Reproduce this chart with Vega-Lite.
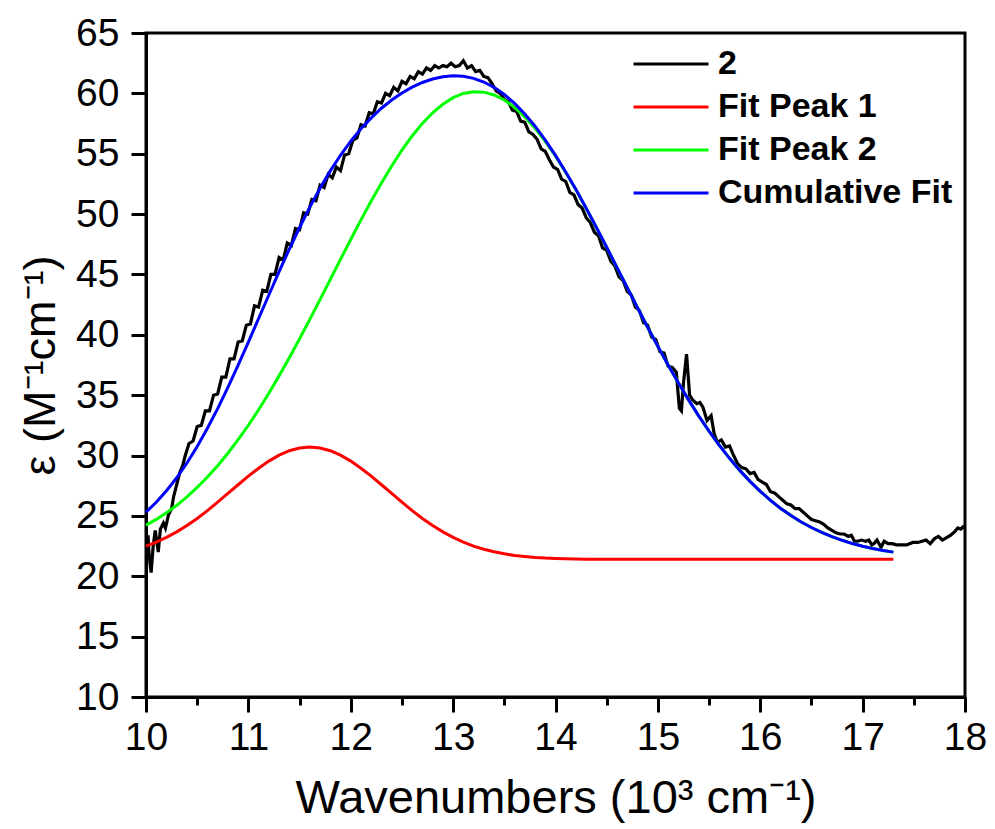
{
"$schema":"https://vega.github.io/schema/vega-lite/v6.json",
"width":819,"height":664,
"autosize":{"type":"none"},
"padding":{"left":146,"top":33,"right":30,"bottom":132},
"background":"white",
"config":{
"view":{"stroke":"black","strokeWidth":3},
"axis":{"domainColor":"black","domainWidth":3,"tickColor":"black","tickWidth":3,"labelFont":"Liberation Sans","labelFontSize":39,"labelColor":"black","titleFont":"Liberation Sans","titleFontSize":45,"titleFontWeight":"normal","titleColor":"black","grid":false,"labelFlush":false,"labelOverlap":false,"labelBound":false}
},
"datasets":{
"black":[[10.00,22.6],[10.02,23.4],[10.03,21.8],[10.05,20.3],[10.07,22.5],[10.09,23.8],[10.11,22.6],[10.12,22.0],[10.14,23.9],[10.17,24.4],[10.19,24.0],[10.22,25.1],[10.25,25.6],[10.27,26.6],[10.30,27.6],[10.33,28.6],[10.36,29.2],[10.38,29.9],[10.42,31.0],[10.46,31.2],[10.50,32.4],[10.54,32.5],[10.58,33.7],[10.62,33.7],[10.66,35.0],[10.70,35.1],[10.74,36.5],[10.78,36.5],[10.82,38.0],[10.86,38.0],[10.90,39.4],[10.94,39.5],[10.98,40.8],[11.02,40.9],[11.06,42.4],[11.10,42.3],[11.14,43.7],[11.18,43.6],[11.22,45.0],[11.26,45.0],[11.30,46.4],[11.34,46.2],[11.38,47.6],[11.42,47.4],[11.46,48.8],[11.50,48.7],[11.54,50.1],[11.58,50.0],[11.62,51.2],[11.66,51.1],[11.70,52.4],[11.74,52.2],[11.78,53.3],[11.82,53.0],[11.86,53.9],[11.90,53.6],[11.94,54.9],[11.98,55.0],[12.02,56.1],[12.06,56.3],[12.10,57.4],[12.14,57.3],[12.18,58.4],[12.22,58.3],[12.26,59.3],[12.30,59.2],[12.34,60.0],[12.38,59.8],[12.42,60.5],[12.46,60.2],[12.50,61.0],[12.54,60.8],[12.58,61.4],[12.62,61.2],[12.66,61.8],[12.70,61.6],[12.74,62.1],[12.78,61.9],[12.82,62.3],[12.86,62.1],[12.90,62.3],[12.94,62.2],[12.98,62.5],[13.02,62.2],[13.06,62.3],[13.10,62.7],[13.14,62.1],[13.18,62.3],[13.22,61.8],[13.26,61.9],[13.30,61.4],[13.34,61.3],[13.38,60.8],[13.42,60.2],[13.46,60.0],[13.50,59.5],[13.54,59.3],[13.58,58.6],[13.62,58.5],[13.66,57.7],[13.70,57.6],[13.74,56.8],[13.78,56.6],[13.82,56.2],[13.86,55.4],[13.90,55.2],[13.94,54.5],[13.98,53.9],[14.02,53.7],[14.06,52.9],[14.10,52.7],[14.14,51.8],[14.18,51.6],[14.22,50.8],[14.26,50.5],[14.30,49.7],[14.34,49.3],[14.38,48.5],[14.42,48.2],[14.46,47.2],[14.50,47.0],[14.54,46.1],[14.58,45.7],[14.62,44.8],[14.66,44.5],[14.70,43.6],[14.74,43.3],[14.78,42.3],[14.82,42.0],[14.86,41.0],[14.90,40.8],[14.94,39.8],[14.98,39.6],[15.02,38.6],[15.06,38.5],[15.10,37.4],[15.14,37.3],[15.18,36.9],[15.21,33.9],[15.23,33.7],[15.25,36.0],[15.28,38.4],[15.31,35.0],[15.34,34.6],[15.38,34.3],[15.41,34.4],[15.44,34.0],[15.48,32.9],[15.52,33.3],[15.55,31.8],[15.58,31.1],[15.62,31.3],[15.66,30.7],[15.70,30.8],[15.74,30.0],[15.78,29.3],[15.82,29.0],[15.86,28.9],[15.90,28.5],[15.94,28.6],[15.98,28.0],[16.02,27.8],[16.06,27.6],[16.10,27.0],[16.14,26.9],[16.18,26.6],[16.22,26.3],[16.26,26.0],[16.30,25.9],[16.34,25.6],[16.38,25.6],[16.42,25.3],[16.46,25.0],[16.50,24.7],[16.54,24.6],[16.58,24.5],[16.62,24.3],[16.66,24.0],[16.70,23.8],[16.74,23.6],[16.78,23.5],[16.82,23.5],[16.86,23.3],[16.89,23.4],[16.92,22.9],[16.95,22.9],[16.99,23.0],[17.03,22.9],[17.06,23.0],[17.09,22.6],[17.11,22.7],[17.14,23.0],[17.18,22.4],[17.21,22.9],[17.25,22.7],[17.29,22.7],[17.33,22.6],[17.38,22.6],[17.43,22.6],[17.49,22.8],[17.54,22.8],[17.58,22.9],[17.62,23.0],[17.66,22.7],[17.70,23.1],[17.74,23.3],[17.78,23.0],[17.82,23.2],[17.86,23.4],[17.90,23.7],[17.93,24.0],[17.96,23.9],[17.98,24.1],[18.00,24.0]],
"fits":[[10.0,22.50,24.22,25.32],[10.1,22.83,24.71,26.13],[10.2,23.22,25.26,27.08],[10.3,23.68,25.88,28.16],[10.4,24.20,26.58,29.38],[10.5,24.79,27.36,30.75],[10.6,25.44,28.22,32.26],[10.7,26.14,29.16,33.89],[10.8,26.86,30.19,35.64],[10.9,27.58,31.31,37.49],[11.0,28.29,32.51,39.40],[11.1,28.95,33.79,41.35],[11.2,29.54,35.16,43.30],[11.3,30.03,36.60,45.23],[11.4,30.40,38.10,47.10],[11.5,30.62,39.67,48.89],[11.6,30.70,41.28,50.58],[11.7,30.62,42.92,52.14],[11.8,30.40,44.58,53.58],[11.9,30.03,46.25,54.87],[12.0,29.54,47.90,56.04],[12.1,28.95,49.52,57.07],[12.2,28.29,51.08,57.97],[12.3,27.58,52.58,58.77],[12.4,26.86,53.99,59.45],[12.5,26.14,55.30,60.03],[12.6,25.44,56.47,60.52],[12.7,24.79,57.51,60.90],[12.8,24.20,58.39,61.19],[12.9,23.68,59.10,61.38],[13.0,23.22,59.64,61.46],[13.1,22.83,59.99,61.41],[13.2,22.50,60.14,61.24],[13.3,22.24,60.10,60.94],[13.4,22.03,59.87,60.50],[13.5,21.86,59.45,59.91],[13.6,21.73,58.84,59.17],[13.7,21.64,58.06,58.29],[13.8,21.56,57.11,57.28],[13.9,21.51,56.02,56.13],[14.0,21.48,54.79,54.86],[14.1,21.45,53.44,53.49],[14.2,21.43,51.99,52.03],[14.3,21.42,50.46,50.48],[14.4,21.41,48.87,48.89],[14.5,21.41,47.24,47.25],[14.6,21.40,45.58,45.59],[14.7,21.40,43.92,43.92],[14.8,21.40,42.26,42.26],[14.9,21.40,40.63,40.63],[15.0,21.40,39.04,39.04],[15.1,21.40,37.50,37.50],[15.2,21.40,36.02,36.02],[15.3,21.40,34.61,34.61],[15.4,21.40,33.27,33.27],[15.5,21.40,32.02,32.02],[15.6,21.40,30.85,30.85],[15.7,21.40,29.77,29.77],[15.8,21.40,28.77,28.77],[15.9,21.40,27.86,27.86],[16.0,21.40,27.04,27.04],[16.1,21.40,26.29,26.29],[16.2,21.40,25.62,25.62],[16.3,21.40,25.03,25.03],[16.4,21.40,24.50,24.50],[16.5,21.40,24.04,24.04],[16.6,21.40,23.63,23.63],[16.7,21.40,23.28,23.28],[16.8,21.40,22.98,22.98],[16.9,21.40,22.71,22.71],[17.0,21.40,22.49,22.49],[17.1,21.40,22.30,22.30],[17.2,21.40,22.14,22.14],[17.3,21.40,22.00,22.00]]
},
"layer":[
{"data":{"name":"black"},
 "transform":[{"calculate":"datum[0]","as":"x"},{"calculate":"datum[1]","as":"y"},{"calculate":"'2'","as":"s"}],
 "mark":{"type":"line","strokeWidth":3.2,"clip":true},
 "encoding":{
  "x":{"field":"x","type":"quantitative","scale":{"domain":[10,18],"nice":false,"zero":false},
   "axis":{"title":"Wavenumbers (10³ cm⁻¹)","titleFontSize":47,"values":[10,10.5,11,11.5,12,12.5,13,13.5,14,14.5,15,15.5,16,16.5,17,17.5,18],
    "labelExpr":"datum.value % 1 === 0 ? format(datum.value,'d') : ''",
    "tickSize":{"condition":{"test":"datum.value % 1 === 0","value":15},"value":8},
    "labelPadding":6,"titlePadding":18}},
  "y":{"field":"y","type":"quantitative","scale":{"domain":[10,65],"nice":false,"zero":false},
   "axis":{"title":"ε (M⁻¹cm⁻¹)","values":[10,12.5,15,17.5,20,22.5,25,27.5,30,32.5,35,37.5,40,42.5,45,47.5,50,52.5,55,57.5,60,62.5,65],
    "labelExpr":"datum.value % 5 === 0 ? format(datum.value,'d') : ''",
    "tickSize":{"condition":{"test":"datum.value % 5 === 0","value":15},"value":8},
    "labelPadding":12,"titlePadding":12}},
  "color":{"field":"s","type":"nominal","scale":{"domain":["2","Fit Peak 1","Fit Peak 2","Cumulative Fit"],"range":["#000000","#ff0000","#00ff00","#0000ff"]},
   "legend":{"title":null,"orient":"none","legendX":508,"legendY":14,"symbolType":"M-2.5,0H2.5","symbolSize":900,"symbolStrokeWidth":3,"labelFont":"Liberation Sans","labelFontSize":34,"labelFontWeight":"bold","labelColor":"black","labelLimit":0,"rowPadding":9,"labelOffset":30,"padding":0}}
 }},
{"data":{"name":"fits"},
 "transform":[{"calculate":"datum[0]","as":"x"},{"calculate":"datum[1]","as":"y"},{"calculate":"'Fit Peak 1'","as":"s"}],
 "mark":{"type":"line","strokeWidth":3},
 "encoding":{"x":{"field":"x","type":"quantitative"},"y":{"field":"y","type":"quantitative"},"color":{"field":"s","type":"nominal"}}},
{"data":{"name":"fits"},
 "transform":[{"calculate":"datum[0]","as":"x"},{"calculate":"datum[2]","as":"y"},{"calculate":"'Fit Peak 2'","as":"s"}],
 "mark":{"type":"line","strokeWidth":3},
 "encoding":{"x":{"field":"x","type":"quantitative"},"y":{"field":"y","type":"quantitative"},"color":{"field":"s","type":"nominal"}}},
{"data":{"name":"fits"},
 "transform":[{"calculate":"datum[0]","as":"x"},{"calculate":"datum[3]","as":"y"},{"calculate":"'Cumulative Fit'","as":"s"}],
 "mark":{"type":"line","strokeWidth":3},
 "encoding":{"x":{"field":"x","type":"quantitative"},"y":{"field":"y","type":"quantitative"},"color":{"field":"s","type":"nominal"}}}
]
}
